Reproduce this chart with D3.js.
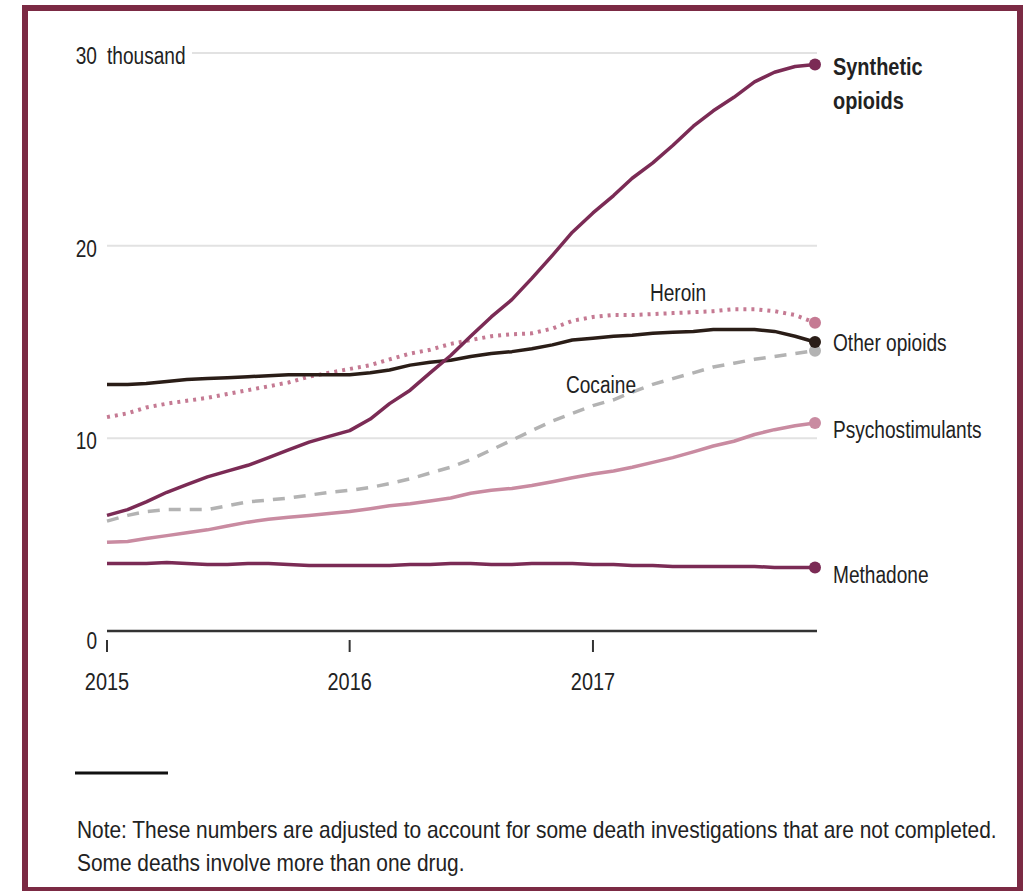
<!DOCTYPE html>
<html>
<head>
<meta charset="utf-8">
<script src="https://cdn.jsdelivr.net/npm/d3@7"></script>
<style>
  body { margin: 0; background: #fff; }
  svg text { font-family: "Liberation Sans", Arial, sans-serif; fill: #222; }
</style>
</head>
<body>
<svg id="chart" width="1030" height="891"></svg>
<script>
// monthly values, thousands of deaths, Jan 2015 .. Dec 2017
const months = d3.timeMonths(new Date(2015, 0, 1), new Date(2017, 11, 2));

const synthetic = [6.0, 6.3, 6.7, 7.2, 7.6, 8.0, 8.3, 8.6, 9.0, 9.4, 9.8, 10.1,
  10.4, 11.0, 11.8, 12.5, 13.4, 14.3, 15.3, 16.3, 17.2, 18.3, 19.5, 20.7,
  21.7, 22.6, 23.5, 24.3, 25.2, 26.2, 27.0, 27.7, 28.5, 29.0, 29.3, 29.4];
const heroin = [11.1, 11.3, 11.6, 11.8, 11.95, 12.1, 12.3, 12.5, 12.7, 12.9, 13.2, 13.4,
  13.6, 13.8, 14.1, 14.4, 14.6, 14.9, 15.1, 15.3, 15.4, 15.45, 15.7, 16.1,
  16.3, 16.4, 16.4, 16.45, 16.5, 16.55, 16.6, 16.7, 16.7, 16.6, 16.4, 16.0];
const otherOpioids = [12.8, 12.8, 12.85, 12.95, 13.05, 13.1, 13.15, 13.2, 13.25, 13.3, 13.3, 13.3,
  13.3, 13.4, 13.55, 13.8, 13.95, 14.05, 14.25, 14.4, 14.5, 14.65, 14.85, 15.1,
  15.2, 15.3, 15.35, 15.45, 15.5, 15.55, 15.65, 15.65, 15.65, 15.55, 15.3, 15.0];
const cocaine = [5.7, 6.0, 6.2, 6.3, 6.3, 6.3, 6.5, 6.7, 6.8, 6.9, 7.05, 7.2,
  7.3, 7.45, 7.65, 7.9, 8.2, 8.5, 8.9, 9.4, 9.9, 10.4, 10.9, 11.3,
  11.7, 12.0, 12.4, 12.8, 13.1, 13.4, 13.7, 13.9, 14.1, 14.25, 14.4, 14.55];
const psychostimulants = [4.6, 4.65, 4.8, 4.95, 5.1, 5.25, 5.45, 5.65, 5.8, 5.9, 6.0, 6.1,
  6.2, 6.35, 6.5, 6.6, 6.75, 6.9, 7.15, 7.3, 7.4, 7.55, 7.75, 7.95,
  8.15, 8.3, 8.5, 8.75, 9.0, 9.3, 9.6, 9.85, 10.2, 10.45, 10.65, 10.8];
const methadone = [3.5, 3.5, 3.5, 3.55, 3.5, 3.45, 3.45, 3.5, 3.5, 3.45, 3.4, 3.4,
  3.4, 3.4, 3.4, 3.45, 3.45, 3.5, 3.5, 3.45, 3.45, 3.5, 3.5, 3.5,
  3.45, 3.45, 3.4, 3.4, 3.35, 3.35, 3.35, 3.35, 3.35, 3.3, 3.3, 3.3];

const yTicks = [0, 10, 20, 30];
const yearTicks = [new Date(2015, 0, 1), new Date(2016, 0, 1), new Date(2017, 0, 1)];
const noteLines = ['Note: These numbers are adjusted to account for some death investigations that are not completed.',
  'Some deaths involve more than one drug.'];

const svg = d3.select('#chart');

// squeeze Liberation Sans down to narrow proportions
function condense(sel) {
  sel.each(function () {
    const len = this.getComputedTextLength();
    d3.select(this)
      .attr('textLength', len * 0.83)
      .attr('lengthAdjust', 'spacingAndGlyphs');
  });
}

/** frame */
svg.append('rect')
  .attr('x', 25).attr('y', 8)
  .attr('width', 995).attr('height', 882)
  .attr('fill', '#fff')
  .attr('stroke', '#7b2a44')
  .attr('stroke-width', 6);

const x = d3.scaleTime()
  .domain([months[0], months[months.length - 1]])
  .range([107, 815]);
const y = d3.scaleLinear().domain([0, 30]).range([631, 53]);

/** gridlines */
svg.append('g').selectAll('line')
  .data(yTicks.filter(d => d > 0))
  .join('line')
  .attr('x1', d => d === 30 ? 192 : 107)
  .attr('x2', 817)
  .attr('y1', d => y(d)).attr('y2', d => y(d))
  .attr('stroke', '#e2e2e2')
  .attr('stroke-width', 2);

/** y labels */
svg.append('g').selectAll('text')
  .data(yTicks)
  .join('text')
  .attr('x', 97)
  .attr('y', d => y(d) + (d === 0 ? 18 : 11))
  .attr('text-anchor', 'end')
  .attr('font-size', 23)
  .text(d => d)
  .call(condense);
svg.append('text')
  .attr('x', 107).attr('y', y(30) + 11)
  .attr('font-size', 23)
  .text('thousand')
  .call(condense);

/** baseline + year ticks */
svg.append('line')
  .attr('x1', 107).attr('x2', 817)
  .attr('y1', y(0)).attr('y2', y(0))
  .attr('stroke', '#333').attr('stroke-width', 2.5);
svg.append('g').selectAll('line')
  .data(yearTicks)
  .join('line')
  .attr('x1', d => x(d)).attr('x2', d => x(d))
  .attr('y1', 640).attr('y2', 652)
  .attr('stroke', '#333').attr('stroke-width', 2);
svg.append('g').selectAll('text')
  .data(yearTicks)
  .join('text')
  .attr('x', d => x(d))
  .attr('y', 690)
  .attr('text-anchor', 'middle')
  .attr('font-size', 24)
  .attr('fill', '#111')
  .text(d => d.getFullYear())
  .call(condense);

/** series */
const series = [
  { name: 'Cocaine', values: cocaine, color: '#b3b3b3', dash: '12,9' },
  { name: 'Heroin', values: heroin, color: '#c57a93', dash: '3,5' },
  { name: 'Psychostimulants', values: psychostimulants, color: '#c98ba1', dash: null },
  { name: 'Methadone', values: methadone, color: '#7b2b55', dash: null },
  { name: 'Other opioids', values: otherOpioids, color: '#2a1d17', dash: null },
  { name: 'Synthetic opioids', values: synthetic, color: '#7b2b55', dash: null }
];

const line = d3.line()
  .x((d, i) => x(months[i]))
  .y(d => y(d));

const g = svg.append('g');
series.forEach(s => {
  g.append('path')
    .attr('d', line(s.values))
    .attr('fill', 'none')
    .attr('stroke', s.color)
    .attr('stroke-width', s.dash === '3,5' ? 4 : 3.5)
    .attr('stroke-dasharray', s.dash)
    .attr('stroke-linejoin', 'round');
  g.append('circle')
    .attr('cx', x(months[months.length - 1]))
    .attr('cy', y(s.values[s.values.length - 1]))
    .attr('r', 6)
    .attr('fill', s.color);
});

/** labels at right */
const lastY = arr => y(arr[arr.length - 1]);
svg.append('text')
  .attr('x', 833).attr('y', lastY(synthetic) + 10)
  .attr('font-size', 24).attr('font-weight', 'bold').attr('fill', '#111')
  .selectAll('tspan')
  .data(['Synthetic', 'opioids'])
  .join('tspan')
  .attr('x', 833)
  .attr('dy', (d, i) => i ? 34 : 0)
  .text(d => d)
  .call(condense);
svg.append('text').attr('x', 833).attr('y', lastY(otherOpioids) + 9)
  .attr('font-size', 23).text('Other opioids').call(condense);
svg.append('text').attr('x', 833).attr('y', lastY(psychostimulants) + 15)
  .attr('font-size', 23).text('Psychostimulants').call(condense);
svg.append('text').attr('x', 833).attr('y', lastY(methadone) + 16)
  .attr('font-size', 23).text('Methadone').call(condense);

/** inline labels */
svg.append('text').attr('x', 678).attr('y', 301)
  .attr('text-anchor', 'middle').attr('font-size', 23).text('Heroin').call(condense);
svg.append('text').attr('x', 601).attr('y', 393)
  .attr('text-anchor', 'middle').attr('font-size', 23).text('Cocaine').call(condense);

/** note */
svg.append('line')
  .attr('x1', 75).attr('x2', 168)
  .attr('y1', 773).attr('y2', 773)
  .attr('stroke', '#111').attr('stroke-width', 3);
svg.append('g')
  .attr('transform', 'translate(77,0) scale(0.87,1)')
  .append('text')
  .attr('y', 838)
  .attr('font-size', 24)
  .selectAll('tspan')
  .data(noteLines)
  .join('tspan')
  .attr('x', 0)
  .attr('dy', (d, i) => i ? 33 : 0)
  .text(d => d);
</script>
</body>
</html>
